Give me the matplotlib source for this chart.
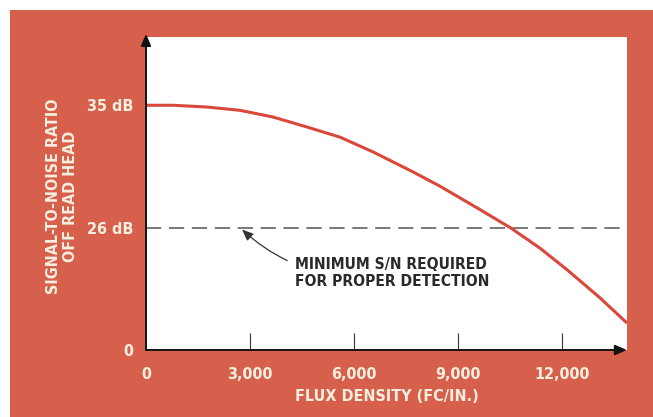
import numpy as np
import matplotlib
matplotlib.use("Agg")
import matplotlib.pyplot as plt
from matplotlib.patches import Rectangle

# Signal-to-noise off the read head vs. flux density
flux = [0, 780, 1760, 2710, 3660, 4640, 5600, 6550, 7700, 8480, 9640, 10530,
        11370, 12140, 13100, 13875]
snr_db = [35.0, 35.0, 34.87, 34.63, 34.14, 33.41, 32.66, 31.58, 30.12, 29.07, 27.35, 26.0,
          21.7, 17.16, 11.1, 5.75]
min_snr = 26

x_ticks = [0, 3000, 6000, 9000, 12000]
x_tick_labels = ["0", "3,000", "6,000", "9,000", "12,000"]
y_ticks = [0, 26, 35]
y_tick_labels = ["0", "26 dB", "35 dB"]

RED = "#d6604b"
CREAM = "#f6efdf"
FONT = ["DejaVu Sans"]

fig = plt.figure(figsize=(6.53, 4.17), dpi=100, facecolor="white")
fig.patches.append(Rectangle((10 / 653, 0), 1, 1 - 10 / 417, transform=fig.transFigure,
                             facecolor=RED, edgecolor="none", zorder=-5))

ax = fig.add_axes([146 / 653, 1 - 350 / 417, (627 - 146) / 653, (350 - 37) / 417])
ax.set_facecolor("white")

# the original's vertical axis is not linear: 0-26 dB and 26-35 dB are drawn at different rates
scale_db = [0, 26, 35, 50]
scale_px = [0, 122, 245, 450]
ax.set_yscale("function", functions=(lambda y: np.interp(y, scale_db, scale_px),
                                     lambda p: np.interp(p, scale_px, scale_db)))

ax.plot(flux, snr_db, color="#d9483b", lw=2.2, solid_capstyle="butt",
        solid_joinstyle="round", zorder=3)
ax.axhline(min_snr, color="#555555", lw=1.1, dashes=(10, 5), zorder=2)

ax.set_xlim(0, 13875)
ax.set_ylim(0, 40)

for s in ax.spines.values():
    s.set_visible(False)

# axes drawn as arrows
ax.annotate("", xy=(1.0, 0), xytext=(0, 0), xycoords="axes fraction",
            arrowprops=dict(arrowstyle="-|>,head_length=0.7,head_width=0.3", color="#111111",
                            lw=1.4, shrinkA=0, shrinkB=0), annotation_clip=False, zorder=5)
ax.annotate("", xy=(0, 1.01), xytext=(0, 0), xycoords="axes fraction",
            arrowprops=dict(arrowstyle="-|>,head_length=0.7,head_width=0.3", color="#111111",
                            lw=1.4, shrinkA=0, shrinkB=0), annotation_clip=False, zorder=5)

ax.set_xticks(x_ticks)
ax.set_xticklabels(x_tick_labels)
ax.set_yticks(y_ticks)
ax.set_yticklabels(y_tick_labels)
ax.tick_params(axis="x", direction="in", length=12, width=0.8, color="#333333", pad=12)
ax.tick_params(axis="y", length=0, pad=9)
ax.xaxis.get_ticklines()[0].set_visible(False)
for lab in ax.get_xticklabels() + ax.get_yticklabels():
    lab.set_family(FONT)
    lab.set_fontweight("bold")
    lab.set_fontstretch("condensed")
    lab.set_fontsize(11.5)
    lab.set_color(CREAM)

ax.set_xlabel("FLUX DENSITY (FC/IN.)", family=FONT, fontweight="bold", fontsize=11.5,
              fontstretch="condensed", color=CREAM, labelpad=5)
fig.text(62 / 653, 1 - 196 / 417, "SIGNAL-TO-NOISE RATIO\nOFF READ HEAD", rotation=90,
         ha="center", va="center", multialignment="center", family=FONT,
         fontweight="bold", fontstretch="condensed", fontsize=11.5, color=CREAM,
         linespacing=1.2)

ax.annotate("MINIMUM S/N REQUIRED\nFOR PROPER DETECTION", xy=(2770, min_snr - 0.3),
            xytext=(4300, 16.5), ha="left", va="center", family=FONT, fontweight="bold",
            fontstretch="condensed", fontsize=11.2, color="#2a2a2a", linespacing=1.15,
            arrowprops=dict(arrowstyle="-|>,head_length=0.6,head_width=0.25", color="#333333",
                            lw=0.9, connectionstyle="arc3,rad=-0.25",
                            shrinkA=4, shrinkB=0))

fig.savefig("out.png", dpi=100, facecolor=fig.get_facecolor())
